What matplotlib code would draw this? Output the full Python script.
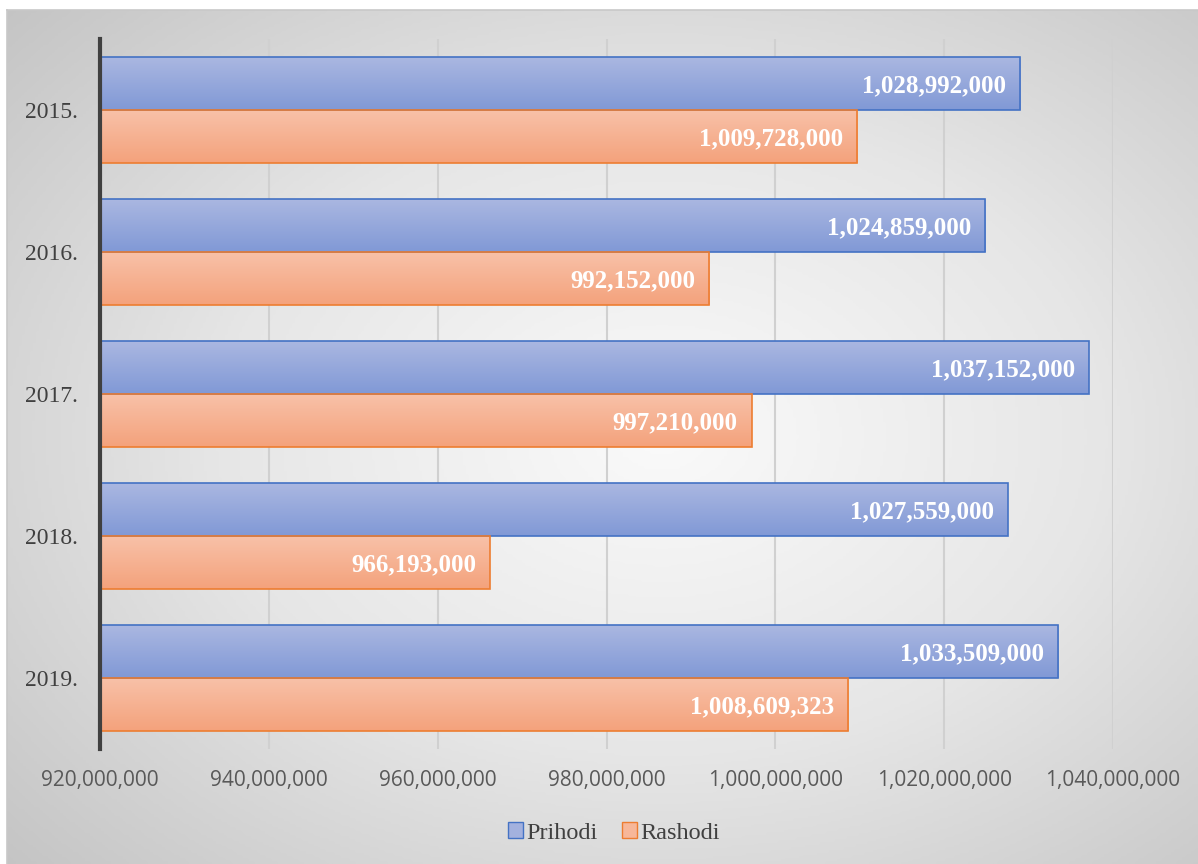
import numpy as np
import matplotlib.pyplot as plt
from matplotlib.colors import LinearSegmentedColormap
from matplotlib.ticker import FuncFormatter
from matplotlib.patches import Patch

years = ['2015.', '2016.', '2017.', '2018.', '2019.']
prihodi = [1028992000, 1024859000, 1037152000, 1027559000, 1033509000]
rashodi = [1009728000, 992152000, 997210000, 966193000, 1008609323]

W, H = 1198, 864
fig = plt.figure(figsize=(W / 100, H / 100), dpi=100)

# radial gradient background of the chart area
bg = fig.add_axes([7 / W, 0, 1 - 7 / W, 1 - 10 / H])
yy, xx = np.mgrid[0:1:300j, 0:1:400j]
d = np.sqrt(((xx - 0.55) / 0.75) ** 2 + ((yy - 0.5) / 0.75) ** 2)
d = np.clip(d, 0, 1)
bg_cmap = LinearSegmentedColormap.from_list('bg', ['#fafafa', '#e6e6e6', '#c4c4c4'])
bg.imshow(d, cmap=bg_cmap, aspect='auto', extent=[0, 1, 0, 1], vmin=0, vmax=1)
bg.set_xticks([])
bg.set_yticks([])
for s in bg.spines.values():
    s.set_color('#c8c8c8')
    s.set_linewidth(1.2)
bg.spines['right'].set_visible(False)
bg.spines['bottom'].set_visible(False)
bg.set_zorder(0)

ax = fig.add_axes([100 / W, 1 - 749 / H, (1113 - 100) / W, (749 - 39) / H])
ax.set_zorder(1)
ax.patch.set_alpha(0)

y = np.arange(len(years))
h = 0.373
b1 = ax.barh(y - h / 2, prihodi, height=h, color='none',
             edgecolor='#4472c4', linewidth=1.2, zorder=3)
b2 = ax.barh(y + h / 2, rashodi, height=h, color='none',
             edgecolor='#ed7d31', linewidth=1.2, zorder=3)

# vertical gradient fill inside each bar
blue_cm = LinearSegmentedColormap.from_list('b', ['#aab7e1', '#8199d6'])
orange_cm = LinearSegmentedColormap.from_list('o', ['#f8c1a8', '#f4a27c'])
grad = np.linspace(0, 1, 64).reshape(-1, 1)
for bars, cm in ((b1, blue_cm), (b2, orange_cm)):
    for p in bars:
        x1 = p.get_x() + p.get_width()
        yb, yt = p.get_y(), p.get_y() + p.get_height()
        ax.imshow(grad, cmap=cm, aspect='auto', extent=[920e6, x1, yt, yb],
                  zorder=2, interpolation='bilinear')
ax.set_xlim(920e6, 1040e6)
ax.set_ylim(len(years) - 0.5, -0.5)

for bars, vals in ((b1, prihodi), (b2, rashodi)):
    for p, v in zip(bars, vals):
        ax.annotate(f'{v:,}', (p.get_width(), p.get_y() + p.get_height() / 2),
                    xytext=(-14, -2), textcoords='offset pixels',
                    ha='right', va='center', color='white', fontweight='bold',
                    fontsize=18, family='Liberation Serif', zorder=4)

ax.set_xticks(np.arange(920e6, 1040e6 + 1, 20e6))
ax.xaxis.set_major_formatter(FuncFormatter(lambda v, p: f'{int(round(v)):,}'))
ax.grid(axis='x', color='#d0d0d0', linewidth=1.5, zorder=1)
ax.set_axisbelow(True)
ax.tick_params(axis='x', length=0, pad=15, labelsize=15, labelcolor='#595959')
for lbl in ax.get_xticklabels():
    lbl.set_family('Open Sans')

ax.set_yticks(y)
ax.set_yticklabels(years, family='Liberation Serif', fontsize=17, color='#404040')
ax.tick_params(axis='y', length=0, pad=16)

for s in ('top', 'right', 'bottom'):
    ax.spines[s].set_visible(False)
ax.spines['left'].set_color('#404040')
ax.spines['left'].set_linewidth(3)
ax.spines['left'].set_zorder(5)

handles = [Patch(facecolor='#a3b1de', edgecolor='#4472c4', label='Prihodi'),
           Patch(facecolor='#f7b799', edgecolor='#ed7d31', label='Rashodi')]
fig.legend(handles=handles, loc='center', bbox_to_anchor=(614 / W, 1 - 833 / H),
           ncol=2, frameon=False, prop={'family': 'Liberation Serif', 'size': 17.5},
           handlelength=0.6, handleheight=0.6, handletextpad=0.15, columnspacing=1.0,
           labelcolor='#404040')

fig.savefig('out.png', dpi=100)
